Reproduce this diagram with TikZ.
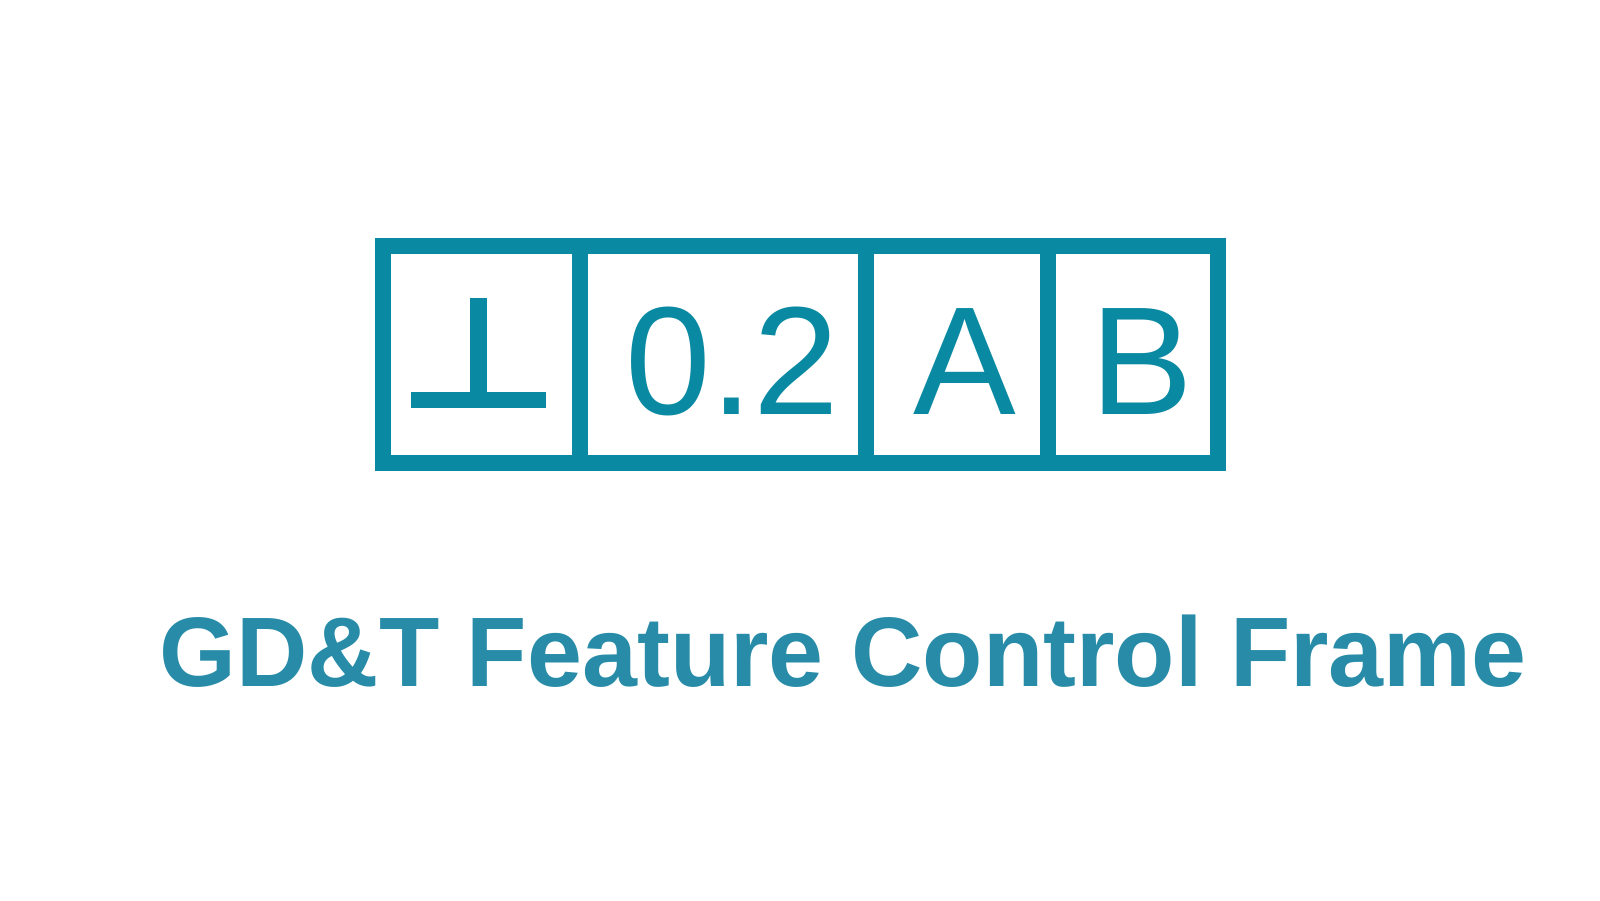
\documentclass[tikz,border=0pt]{standalone}
\usepackage{fontspec}
\setmainfont{Liberation Sans}
\definecolor{frameteal}{RGB}{10,138,162}
\definecolor{titleteal}{RGB}{40,140,168}
\begin{document}
\begin{tikzpicture}[x=1pt,y=-1pt,
  framestyle/.style={draw=frameteal,line width=16pt,line join=miter},
  cellstyle/.style={draw=frameteal,line width=16pt},
  cellchar/.style={anchor=base west,inner sep=0pt,text=frameteal,font=\fontsize{154}{160}\selectfont},
  titlestyle/.style={anchor=base west,inner sep=0pt,text=titleteal,font=\fontsize{98.8}{110}\selectfont\bfseries}]
\useasboundingbox (0,0) rectangle (1600,900);
% frame
\coordinate (tl) at (383,246);
\coordinate (br) at (1218,462.5);
\draw[framestyle] (tl) rectangle (br);
\coordinate (d1t) at (580,246);   \coordinate (d1b) at (580,462.5);
\coordinate (d2t) at (866,246);   \coordinate (d2b) at (866,462.5);
\coordinate (d3t) at (1047.5,246);\coordinate (d3b) at (1047.5,462.5);
\draw[cellstyle] (d1t) -- (d1b);
\draw[cellstyle] (d2t) -- (d2b);
\draw[cellstyle] (d3t) -- (d3b);
% perpendicularity symbol
\fill[frameteal] (470,297.7) rectangle (487,392);
\fill[frameteal] (411,391.7) rectangle (546,407.7);
% cell texts
\node[cellchar] (tol) at (625,414) {0.2};
\node[cellchar] (datA) at (913.5,414) {A};
\node[cellchar] (datB) at (1090.5,414) {B};
% title
\node[titlestyle] (title) at (159.5,686) {GD\&T Feature Control Frame};
\end{tikzpicture}
\end{document}
